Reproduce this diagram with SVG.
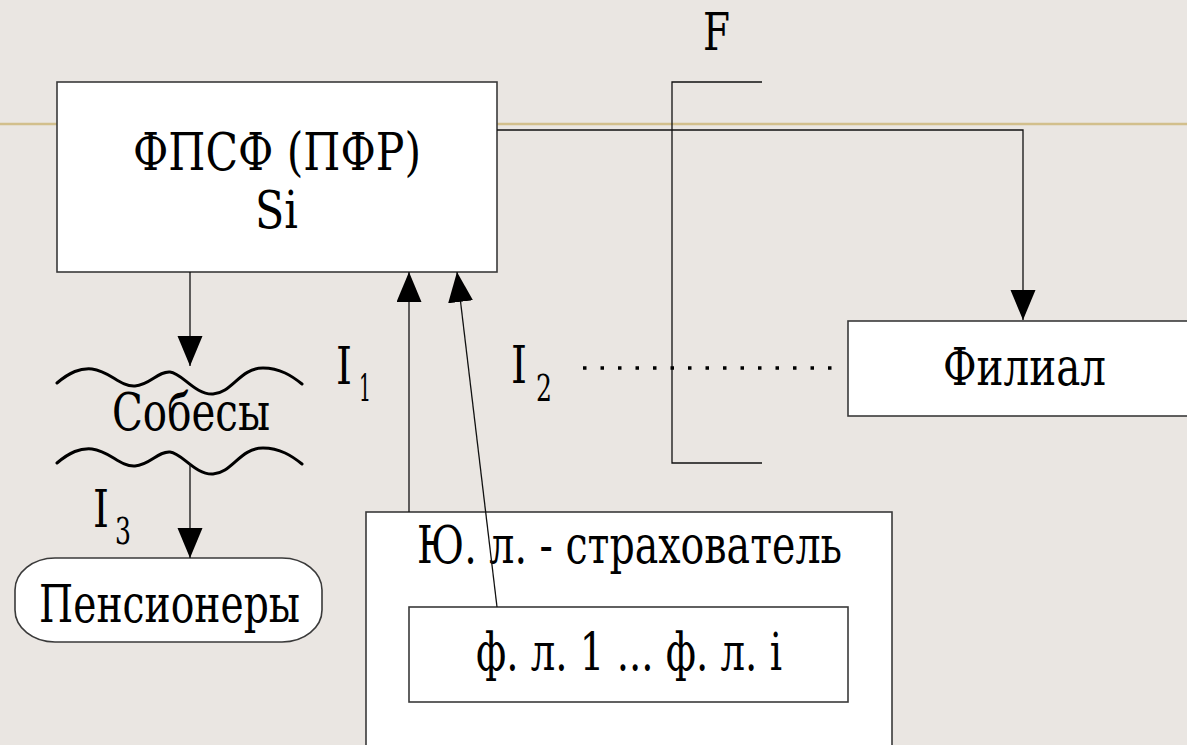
<svg xmlns="http://www.w3.org/2000/svg" width="1187" height="745" viewBox="0 0 1187 745">
<style>
.box{fill:#ffffff;stroke:#3a3a3a;stroke-width:1.6}
.t{font-family:"DejaVu Serif","Liberation Serif",serif;font-size:52px;fill:#000}
.sub{font-family:"DejaVu Serif","Liberation Serif",serif;font-size:38px;fill:#000}
.ln{fill:none;stroke:#111;stroke-width:1.3}
.wave{fill:none;stroke:#000;stroke-width:3;stroke-linecap:round}
</style>
<defs>
<marker id="ah" markerUnits="userSpaceOnUse" markerWidth="30" markerHeight="26" refX="30" refY="12.5" orient="auto">
<path d="M0,0 L30,12.5 L0,25 Z" fill="#000"/>
</marker>
</defs>
<rect width="1187" height="745" fill="#EAE6E2"/>
<line x1="0" y1="124" x2="1187" y2="124" stroke="#D2BF8C" stroke-width="2.5"/>

<g id="bracket-F">
<path class="ln" d="M762,82 H672 V463 H762"/>
<text class="t" x="703" y="50" textLength="27" lengthAdjust="spacingAndGlyphs">F</text>
</g>

<g id="node-pfr">
<rect class="box" x="57" y="82" width="440" height="190"/>
<text class="t" x="133" y="170" textLength="288" lengthAdjust="spacingAndGlyphs">ФПСФ (ПФР)</text>
<text class="t" x="255" y="228" textLength="43" lengthAdjust="spacingAndGlyphs">Si</text>
</g>

<g id="node-filial">
<rect class="box" x="848" y="321" width="360" height="95"/>
<text class="t" x="943" y="385" textLength="163" lengthAdjust="spacingAndGlyphs">Филиал</text>
</g>

<g id="node-sobesy">
<path class="wave" d="M57,383 C70,372 80,368 92,369 C110,371 120,387 135,386 C150,385 158,371 170,372 C182,373 195,395 213,394 C232,393 240,368 263,368 C280,368 292,376 302,384"/>
<path class="wave" transform="translate(0,80)" d="M57,383 C70,372 80,368 92,369 C110,371 120,387 135,386 C150,385 158,371 170,372 C182,373 195,395 213,394 C232,393 240,368 263,368 C280,368 292,376 302,384"/>
<text class="t" x="112" y="430" textLength="158" lengthAdjust="spacingAndGlyphs">Собесы</text>
</g>

<g id="node-pensionery">
<rect class="box" x="15" y="558" width="307" height="84" rx="40" ry="32"/>
<text class="t" x="39" y="622" textLength="261" lengthAdjust="spacingAndGlyphs">Пенсионеры</text>
</g>

<g id="node-yul">
<rect class="box" x="366" y="512" width="526" height="260"/>
<text class="t" x="417" y="563" textLength="425" lengthAdjust="spacingAndGlyphs">Ю. л. - страхователь</text>
</g>

<g id="node-fl">
<rect class="box" x="409" y="607" width="439" height="95"/>
<text class="t" x="476" y="670" textLength="306" lengthAdjust="spacingAndGlyphs">ф. л. 1 ... ф. л. i</text>
</g>

<g id="labels">
<text class="t" x="336" y="384" textLength="16" lengthAdjust="spacingAndGlyphs">I</text><text class="sub" x="359" y="401" textLength="12" lengthAdjust="spacingAndGlyphs">1</text>
<text class="t" x="511" y="383" textLength="16" lengthAdjust="spacingAndGlyphs">I</text><text class="sub" x="536" y="401" textLength="16" lengthAdjust="spacingAndGlyphs">2</text>
<text class="t" x="93" y="527" textLength="16" lengthAdjust="spacingAndGlyphs">I</text><text class="sub" x="115" y="544" textLength="16" lengthAdjust="spacingAndGlyphs">3</text>
</g>

<g id="connectors">
<path class="ln" d="M497,130 H1023 V320" marker-end="url(#ah)"/>
<line class="ln" x1="190" y1="272" x2="190" y2="366" marker-end="url(#ah)"/>
<line class="ln" x1="190" y1="463" x2="190" y2="558" marker-end="url(#ah)"/>
<line class="ln" x1="409" y1="512" x2="409" y2="272" marker-end="url(#ah)"/>
<line class="ln" x1="497" y1="607" x2="457" y2="272" marker-end="url(#ah)"/>
<line x1="583" y1="368" x2="834" y2="368" stroke="#000" stroke-width="3.5" stroke-dasharray="3.5 14"/>
</g>
</svg>
